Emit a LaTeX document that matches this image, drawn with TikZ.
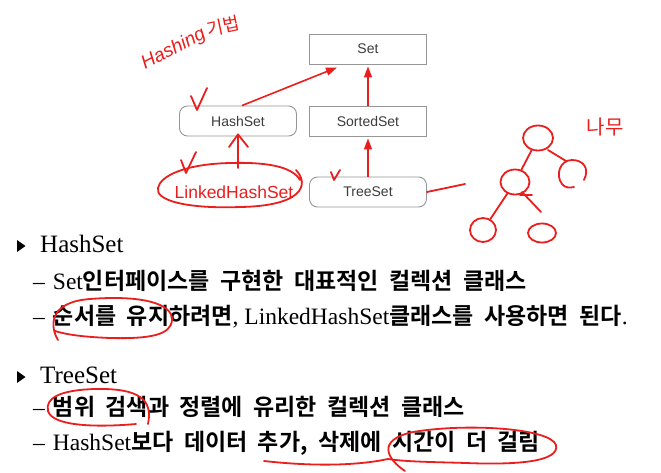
\documentclass[tikz,border=0pt]{standalone}
\usepackage{fontspec}
\setmainfont{Liberation Serif}
\newfontfamily\ko{Noto Sans CJK KR Bold}[WordSpace=2]
\newfontfamily\kohand{Noto Sans CJK KR}
\newfontfamily\boxfont{Liberation Sans}
\usetikzlibrary{arrows.meta,shapes.geometric}
\definecolor{boxline}{RGB}{150,150,150}
\definecolor{boxtext}{RGB}{60,60,60}
\definecolor{pen}{RGB}{235,30,30}
\tikzset{
  sqbox/.style={draw=boxline,line width=0.9pt,minimum width=117pt,minimum height=30pt,inner sep=0pt,font=\boxfont\fontsize{14}{14}\selectfont,text=boxtext},
  rdbox/.style={sqbox,rounded corners=8pt},
  redarrow/.style={draw=pen,line width=1.6pt,-{Triangle[length=11pt,width=8pt]}},
  penline/.style={draw=pen,line width=1.8pt,line cap=round,line join=round},
  txt/.style={anchor=base west,inner sep=0pt,font=\fontsize{23.5}{24}\selectfont},
  head/.style={anchor=base west,inner sep=0pt,font=\fontsize{25}{25}\selectfont},
  bullet/.style={fill=black,draw=none},
}
\newcommand{\K}[1]{{\ko\fontsize{23}{24}\selectfont #1}}
\begin{document}
\begin{tikzpicture}[x=1pt,y=-1pt]
\useasboundingbox (0,0) rectangle (661,472);
\fill[white] (0,0) rectangle (661,472);
% boxes
\node[sqbox] (set) at (368,49) {Set};
\node[rdbox] (hashset) at (238,121) {HashSet};
\node[sqbox] (sortedset) at (368,121) {SortedSet};
\node[rdbox] (treeset) at (368,192) {TreeSet};
% arrows
\draw[redarrow] ([xshift=4pt]hashset.north) -- ([xshift=-31pt,yshift=-3pt]set.south);
\draw[redarrow] (sortedset.north) -- ([yshift=-2pt]set.south);
\draw[redarrow] (treeset.north) -- ([yshift=-2pt]sortedset.south);
% LinkedHashSet annotation
\node[anchor=center,inner sep=0pt,text=pen,font=\boxfont\fontsize{17.5}{18}\selectfont] (lhs) at (234,192) {LinkedHashSet};
\coordinate (lhsArrowTip) at ([yshift=2pt]hashset.south);
\draw[penline] (238,168) -- (lhsArrowTip);
\draw[penline] (229,147) -- (lhsArrowTip) -- (248,147);
\draw[penline] (296,170) .. controls (310,185) and (302,206) .. (240,207)
  .. controls (185,209) and (155,200) .. (158,188)
  .. controls (160,176) and (185,164) .. (230,163)
  .. controls (265,162) and (292,166) .. (300,180);
% Hashing annotation
\node[rotate=28,anchor=base west,inner sep=0pt,text=pen,font=\boxfont\itshape\fontsize{19}{19}\selectfont] (hashing) at (145,70) {Hashing};
\node[rotate=12,anchor=center,inner sep=0pt,text=pen,font=\kohand\fontsize{18}{18}\selectfont] (gibeop) at (223,26) {기법};
% checkmarks
\draw[penline] (191,96) -- (197,110) -- (207,88);
\draw[penline] (181,160) -- (186,173) -- (196,152);
\draw[penline] (331,172) -- (334,180) -- (340,170);
% treeset line
\draw[penline] (treeset.east) -- (465,184);
% tree
\node[draw=pen,line width=1.8pt,ellipse,minimum width=30pt,minimum height=25pt] (t1) at (538,138) {};
\node[draw=pen,line width=1.8pt,ellipse,minimum width=29pt,minimum height=25pt] (t2) at (515,182) {};
\draw[penline] (584,180) .. controls (590,168) and (583,160) .. (572,160) .. controls (560,160) and (555,175) .. (562,184) .. controls (565,188) and (570,188) .. (574,187);
\node[draw=pen,line width=1.8pt,ellipse,minimum width=26pt,minimum height=24pt] (t4) at (483,230) {};
\node[draw=pen,line width=1.8pt,ellipse,minimum width=28pt,minimum height=19pt] (t5) at (542,233) {};
\draw[penline] (t1) -- (t2);
\draw[penline] (548,150) -- (566,161);
\draw[penline] (t2) -- (t4);
\draw[penline] (522,192) -- (541,212);
\draw[penline] (520,195) -- (532,195);
\node[anchor=center,inner sep=0pt,text=pen,font=\kohand\fontsize{20}{20}\selectfont] (namu) at (605,127) {나무};
% bullets
\fill[bullet] (17,240) -- (25.5,246) -- (17,252) -- cycle;
\fill[bullet] (17,371) -- (25.5,377) -- (17,383) -- cycle;
% text lines
\node[head] (b1) at (40,252) {HashSet};
\node[txt] (l1) at (33,289) {\textendash\hspace{8pt}Set\K{인터페이스를 구현한 대표적인 컬렉션 클래스}};
\node[txt] (l2) at (33,324) {\textendash\hspace{8pt}\K{순서를 유지하려면}, LinkedHashSet\K{클래스를 사용하면 된다}.};
\node[head] (b2) at (40,383) {TreeSet};
\node[txt] (l3) at (33,415) {\textendash\hspace{8pt}\K{범위 검색과 정렬에 유리한 컬렉션 클래스}};
\node[txt] (l4) at (33,450) {\textendash\hspace{8pt}HashSet\K{보다 데이터 추가, 삭제에 시간이 더 걸림}};
% text annotations
\draw[penline] (58,340) .. controls (50,327) and (48,302) .. (90,299) .. controls (140,295) and (173,303) .. (172,320) .. controls (171,335) and (150,339) .. (110,338) .. controls (85,337) and (68,335) .. (55,331);
\draw[penline] (148,424) .. controls (153,400) and (140,388) .. (95,389) .. controls (60,390) and (45,398) .. (48,411) .. controls (52,425) and (90,428) .. (136,424);
\draw[penline] (264,461) .. controls (318,467) and (360,465) .. (388,459);
\draw[penline] (405,471) .. controls (387,459) and (376,440) .. (413,432) .. controls (466,423) and (550,428) .. (556,445) .. controls (560,462) and (516,465) .. (466,463) .. controls (436,462) and (408,462) .. (388,459);
\end{tikzpicture}
\end{document}
